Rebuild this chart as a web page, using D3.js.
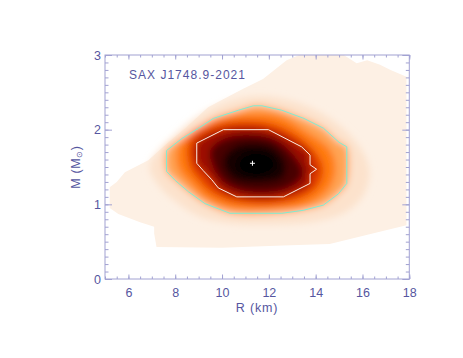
<!DOCTYPE html>
<html>
<head>
<meta charset="utf-8">
<script src="https://cdn.jsdelivr.net/npm/d3@7"></script>
<style>
  body { margin: 0; background: #fff; }
  text { font-family: "Liberation Sans", Arial, sans-serif; }
</style>
</head>
<body>
<div class="chart"></div>
<script>
// values, (R km, M Msun)
const priorOutline = [[5.2,0.95],[5.57,0.87],[6.5,0.76],[7.1,0.7],[7.1,0.61],[7.2,0.43],[10.0,0.42],[12.6,0.45],[14.6,0.47],[16.3,0.6],[17.88,0.72],[17.88,2.71],[17.2,2.8],[16.75,2.87],[16.2,2.93],[15.75,2.89],[15.2,3.0],[13.3,3.0],[12.76,2.93],[11.75,2.68],[10.8,2.53],[9.4,2.3],[8.5,2.04],[7.6,1.8],[6.85,1.59],[5.85,1.43],[5.5,1.3],[5.2,1.23]];
const halo = [[6.9,1.5],[7.2,1.68],[8.0,1.93],[9.0,2.18],[10.3,2.38],[11.5,2.45],[12.8,2.4],[14.2,2.23],[15.4,1.95],[16.1,1.65],[16.3,1.4],[16.0,1.1],[15.3,0.9],[14.0,0.77],[12.0,0.73],[10.2,0.75],[9.0,0.84],[8.0,1.04],[7.3,1.25]];
const contour95 = [[7.63,1.44],[7.63,1.72],[8.28,1.88],[9.0,2.02],[9.63,2.15],[10.7,2.26],[11.34,2.32],[11.7,2.32],[12.55,2.26],[13.5,2.15],[14.33,2.02],[15.0,1.83],[15.33,1.77],[15.33,1.28],[14.97,1.14],[14.33,0.99],[13.47,0.92],[12.55,0.88],[10.34,0.88],[9.27,1.01],[8.56,1.17],[8.0,1.32]];
const midBand = [[8.1,1.5],[8.15,1.8],[9.1,2.05],[10.1,2.17],[11.5,2.22],[12.5,2.18],[13.6,1.98],[14.6,1.74],[14.85,1.5],[14.6,1.22],[13.6,0.99],[12.4,0.94],[10.5,0.94],[9.4,1.06],[8.7,1.26]];
const nearContour68 = [[8.6,1.52],[8.62,1.86],[9.9,2.08],[12.1,2.08],[13.65,1.81],[14.3,1.5],[14.05,1.23],[12.8,1.03],[10.6,1.03],[9.55,1.16],[8.95,1.35]];
const contour68 = [[8.92,1.55],[8.92,1.82],[10.06,2.0],[11.98,2.0],[13.4,1.77],[13.76,1.66],[13.76,1.53],[14.04,1.47],[13.76,1.41],[13.76,1.28],[12.62,1.1],[10.63,1.1],[9.84,1.22],[9.56,1.33],[9.2,1.45]];
const innerDark = [[9.5,1.72],[10.3,1.9],[12.1,1.89],[13.1,1.64],[13.45,1.4],[12.7,1.2],[11.0,1.17],[9.95,1.33]];
const innerCore = [[10.1,1.63],[10.7,1.79],[12.1,1.77],[12.7,1.56],[12.6,1.36],[11.5,1.29],[10.5,1.34],[10.1,1.5]];
const peakCore = [[10.7,1.58],[11.2,1.7],[12.0,1.67],[12.3,1.52],[11.9,1.4],[11.1,1.39],[10.7,1.48]];
const peak = [11.3, 1.55];

const xMajor = [6, 8, 10, 12, 14, 16, 18];
const yMajor = [0, 1, 2, 3];
const title = 'SAX J1748.9-2021';

const width = 463, height = 358;
const x = d3.scaleLinear().domain([5, 18]).range([105, 409.3]);
const y = d3.scaleLinear().domain([0, 3]).range([279, 55]);

const levels = [halo, contour95, midBand, nearContour68, contour68, innerDark, innerCore, peakCore];
const shade = d3.scaleLinear()
  .domain([0, 1, 2, 3, 4, 5, 6, 7, 8])
  .range(['#fdf0e4', '#fce2cc', '#ffa455', '#ff7a10', '#e03a00', '#9c0e00', '#4a0000', '#120000', '#000000']);

const axisCol = '#a2a2d2', textCol = '#5656a0';

const svg = d3.select('.chart').append('svg').attr('width', width).attr('height', height);
const defs = svg.append('defs');
defs.append('clipPath').attr('id', 'plotclip')
  .append('rect').attr('x', x(5)).attr('y', y(3)).attr('width', x(18) - x(5)).attr('height', y(0) - y(3));
defs.append('filter').attr('id', 'soft').attr('x', '-20%').attr('y', '-20%').attr('width', '140%').attr('height', '140%')
  .append('feGaussianBlur').attr('stdDeviation', 3.5);

const lineLin = d3.line().x(d => x(d[0])).y(d => y(d[1])).curve(d3.curveLinearClosed);
const lineSmooth = d3.line().x(d => x(d[0])).y(d => y(d[1])).curve(d3.curveCatmullRomClosed);

const plot = svg.append('g').attr('clip-path', 'url(#plotclip)');
plot.append('path').datum(priorOutline).attr('d', lineLin).attr('fill', shade(0));
plot.append('g').attr('filter', 'url(#soft)')
  .selectAll('path').data(levels).join('path')
  .attr('d', lineSmooth).attr('fill', (d, i) => shade(i + 1));

plot.append('path').datum(contour95).attr('d', lineLin)
  .attr('fill', 'none').attr('stroke', '#7fecd2').attr('stroke-width', 1);
plot.append('path').datum(contour68).attr('d', lineLin)
  .attr('fill', 'none').attr('stroke', '#fbeee6').attr('stroke-width', 1);

// peak marker
plot.append('path')
  .attr('d', `M${x(peak[0]) - 2.5},${y(peak[1])}h5M${x(peak[0])},${y(peak[1]) - 2.5}v5`)
  .attr('stroke', '#fff').attr('stroke-width', 1);

// axes, ticks on all four sides
const xMinor = d3.range(10, 37).map(v => v / 2);
const yMinor = d3.range(0, 31).map(v => v / 10);

function styleAxis(g) {
  g.select('.domain').remove();
  g.selectAll('line').attr('stroke', axisCol);
  g.selectAll('text').attr('fill', textCol).style('font-size', '12.5px');
}

svg.append('g').attr('transform', `translate(0,${y(0)})`)
  .call(d3.axisBottom(x).tickValues(xMinor).tickSize(-2.5).tickFormat('')).call(styleAxis);
svg.append('g').attr('transform', `translate(0,${y(0)})`)
  .call(d3.axisBottom(x).tickValues(xMajor).tickSize(-4.5).tickPadding(9).tickFormat(d3.format('d'))).call(styleAxis);
svg.append('g').attr('transform', `translate(0,${y(3)})`)
  .call(d3.axisTop(x).tickValues(xMinor).tickSize(-2.5).tickFormat('')).call(styleAxis);
svg.append('g').attr('transform', `translate(0,${y(3)})`)
  .call(d3.axisTop(x).tickValues(xMajor).tickSize(-4.5).tickFormat('')).call(styleAxis);

svg.append('g').attr('transform', `translate(${x(5)},0)`)
  .call(d3.axisLeft(y).tickValues(yMinor).tickSize(-3.5).tickFormat('')).call(styleAxis);
svg.append('g').attr('transform', `translate(${x(5)},0)`)
  .call(d3.axisLeft(y).tickValues(yMajor).tickSize(-7).tickPadding(4).tickFormat(d3.format('d'))).call(styleAxis);
svg.append('g').attr('transform', `translate(${x(18)},0)`)
  .call(d3.axisRight(y).tickValues(yMinor).tickSize(-3.5).tickFormat('')).call(styleAxis);
svg.append('g').attr('transform', `translate(${x(18)},0)`)
  .call(d3.axisRight(y).tickValues(yMajor).tickSize(-7).tickFormat('')).call(styleAxis);

svg.append('rect')
  .attr('x', x(5)).attr('y', y(3)).attr('width', x(18) - x(5)).attr('height', y(0) - y(3))
  .attr('fill', 'none').attr('stroke', axisCol).attr('stroke-width', 1);

// labels
svg.append('text').attr('x', 129).attr('y', 79)
  .attr('textLength', 116).attr('lengthAdjust', 'spacing')
  .attr('fill', textCol).style('font-size', '12px').text(title);

svg.append('text').attr('x', 257).attr('y', 312).attr('text-anchor', 'middle')
  .attr('fill', textCol).style('font-size', '12.5px').style('letter-spacing', '0.8px').text('R (km)');

const yl = svg.append('text').attr('transform', 'translate(80,167) rotate(-90)')
  .attr('text-anchor', 'middle').attr('fill', textCol).style('font-size', '12.5px').style('letter-spacing', '0.6px');
yl.append('tspan').text('M (M');
yl.append('tspan').attr('baseline-shift', '-25%').style('font-size', '8px').text('⊙');
yl.append('tspan').text(')');
</script>
</body>
</html>
